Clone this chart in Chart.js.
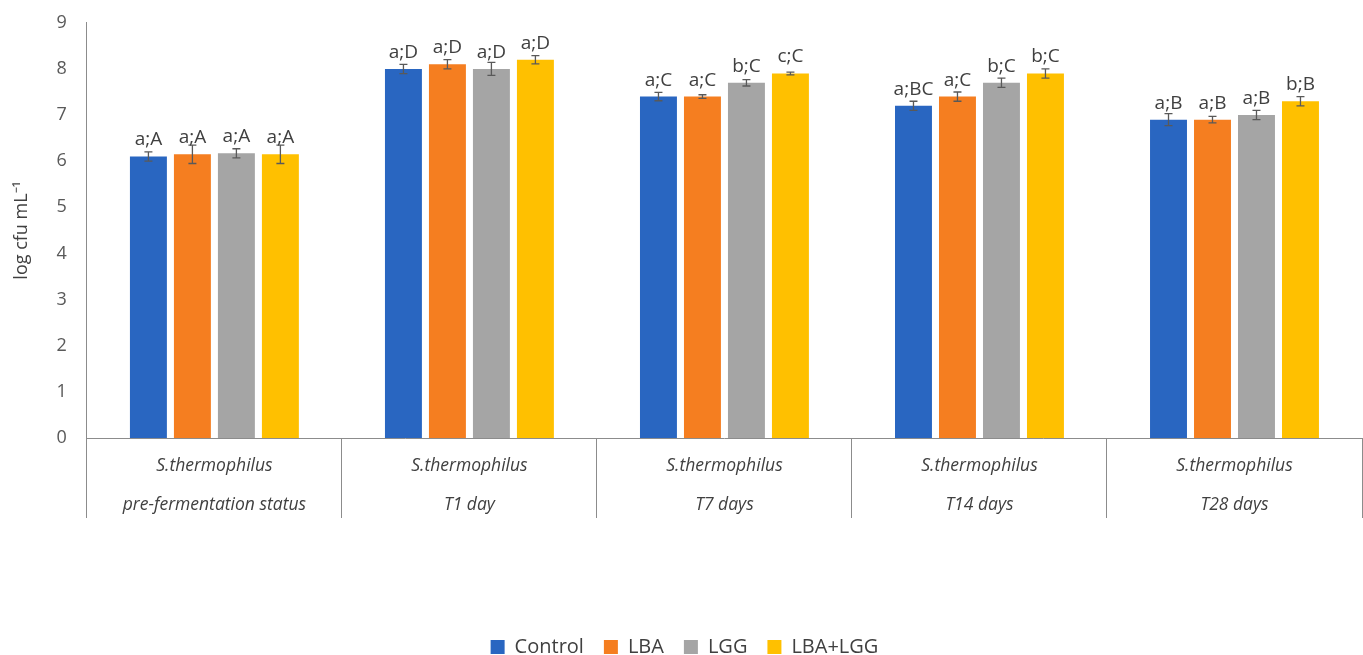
<!DOCTYPE html>
<html>
<head>
<meta charset="utf-8">
<script src="https://cdn.jsdelivr.net/npm/chart.js"></script>
<style>
  html, body { margin: 0; padding: 0; background: #fff; }
  #wrap { width: 1363px; height: 655px; }
</style>
</head>
<body>
<div id="wrap"><canvas id="chart1"></canvas></div>
<script>
// data
var groups = [
  ['S.thermophilus', 'pre-fermentation status'],
  ['S.thermophilus', 'T1 day'],
  ['S.thermophilus', 'T7 days'],
  ['S.thermophilus', 'T14 days'],
  ['S.thermophilus', 'T28 days']
];
var control = [6.1, 8.0, 7.4, 7.2, 6.9];
var lba     = [6.15, 8.1, 7.4, 7.4, 6.9];
var lgg     = [6.17, 8.0, 7.7, 7.7, 7.0];
var lbaLgg  = [6.15, 8.2, 7.9, 7.9, 7.3];

var controlErr = [0.1, 0.1, 0.09, 0.1, 0.13];
var lbaErr     = [0.2, 0.1, 0.04, 0.1, 0.07];
var lggErr     = [0.1, 0.14, 0.07, 0.1, 0.1];
var lbaLggErr  = [0.2, 0.09, 0.03, 0.1, 0.1];

var controlLbl = ['a;A', 'a;D', 'a;C', 'a;BC', 'a;B'];
var lbaLbl     = ['a;A', 'a;D', 'a;C', 'a;C', 'a;B'];
var lggLbl     = ['a;A', 'a;D', 'b;C', 'b;C', 'a;B'];
var lbaLggLbl  = ['a;A', 'a;D', 'c;C', 'b;C', 'b;B'];

var yTicks = [0, 1, 2, 3, 4, 5, 6, 7, 8, 9];

var FONT = '"Open Sans", sans-serif';
var TEXT = '#595959';

// error bars + letters above the bars
var barExtras = {
  id: 'barExtras',
  afterDatasetsDraw: function (chart) {
    var ctx = chart.ctx;
    var y = chart.scales.y;
    chart.data.datasets.forEach(function (ds, i) {
      var meta = chart.getDatasetMeta(i);
      meta.data.forEach(function (bar, j) {
        var v = ds.data[j], e = ds.errors[j];
        var top = y.getPixelForValue(v + e), bot = y.getPixelForValue(v - e);
        ctx.save();
        ctx.strokeStyle = '#595959';
        ctx.lineWidth = 1.3;
        ctx.beginPath();
        ctx.moveTo(bar.x, top); ctx.lineTo(bar.x, bot);
        ctx.moveTo(bar.x - 4, top); ctx.lineTo(bar.x + 4, top);
        ctx.moveTo(bar.x - 4, bot); ctx.lineTo(bar.x + 4, bot);
        ctx.stroke();
        ctx.fillStyle = '#404040';
        ctx.font = '19px ' + FONT;
        ctx.textAlign = 'center';
        ctx.textBaseline = 'bottom';
        ctx.fillText(ds.letters[j], bar.x, bar.y - 7);
        ctx.restore();
      });
    });
  }
};

new Chart(document.getElementById('chart1'), {
  type: 'bar',
  data: {
    labels: groups,
    datasets: [
      { label: 'Control', data: control, errors: controlErr, letters: controlLbl, backgroundColor: '#2966C1' },
      { label: 'LBA', data: lba, errors: lbaErr, letters: lbaLbl, backgroundColor: '#F57E20' },
      { label: 'LGG', data: lgg, errors: lggErr, letters: lggLbl, backgroundColor: '#A5A5A5' },
      { label: 'LBA+LGG', data: lbaLgg, errors: lbaLggErr, letters: lbaLggLbl, backgroundColor: '#FFC000' }
    ]
  },
  options: {
    responsive: true,
    maintainAspectRatio: false,
    animation: false,
    datasets: { bar: { categoryPercentage: 0.69, barPercentage: 0.84 } },
    layout: { padding: { top: 20, right: 1, left: 7, bottom: -12 } },
    plugins: {
      tooltip: { enabled: false },
      legend: {
        position: 'bottom',
        labels: { font: { family: FONT, size: 20 }, color: '#404040', boxWidth: 14, boxHeight: 14, padding: 20 }
      }
    },
    scales: {
      x: {
        grid: { display: true, drawOnChartArea: false, drawTicks: true, tickLength: 80, color: '#8c8c8c', offset: true },
        border: { display: true, color: '#8c8c8c' },
        ticks: { font: { family: FONT, size: 17.5, style: 'italic', lineHeight: 2.2 }, color: '#404040', padding: -71, maxRotation: 0 },
        afterFit: function (s) { s.height = 179; }
      },
      y: {
        min: 0, max: 9,
        afterBuildTicks: function (s) { s.ticks = yTicks.map(function (v) { return { value: v }; }); },
        grid: { display: false },
        border: { display: true, color: '#8c8c8c' },
        ticks: { font: { family: FONT, size: 18 }, color: TEXT, padding: 12 },
        title: { display: true, text: 'log cfu mL\u207B\u00B9', font: { family: FONT, size: 18 }, color: '#404040', padding: { bottom: 12 } }
      }
    }
  },
  plugins: [barExtras]
});
</script>
</body>
</html>
